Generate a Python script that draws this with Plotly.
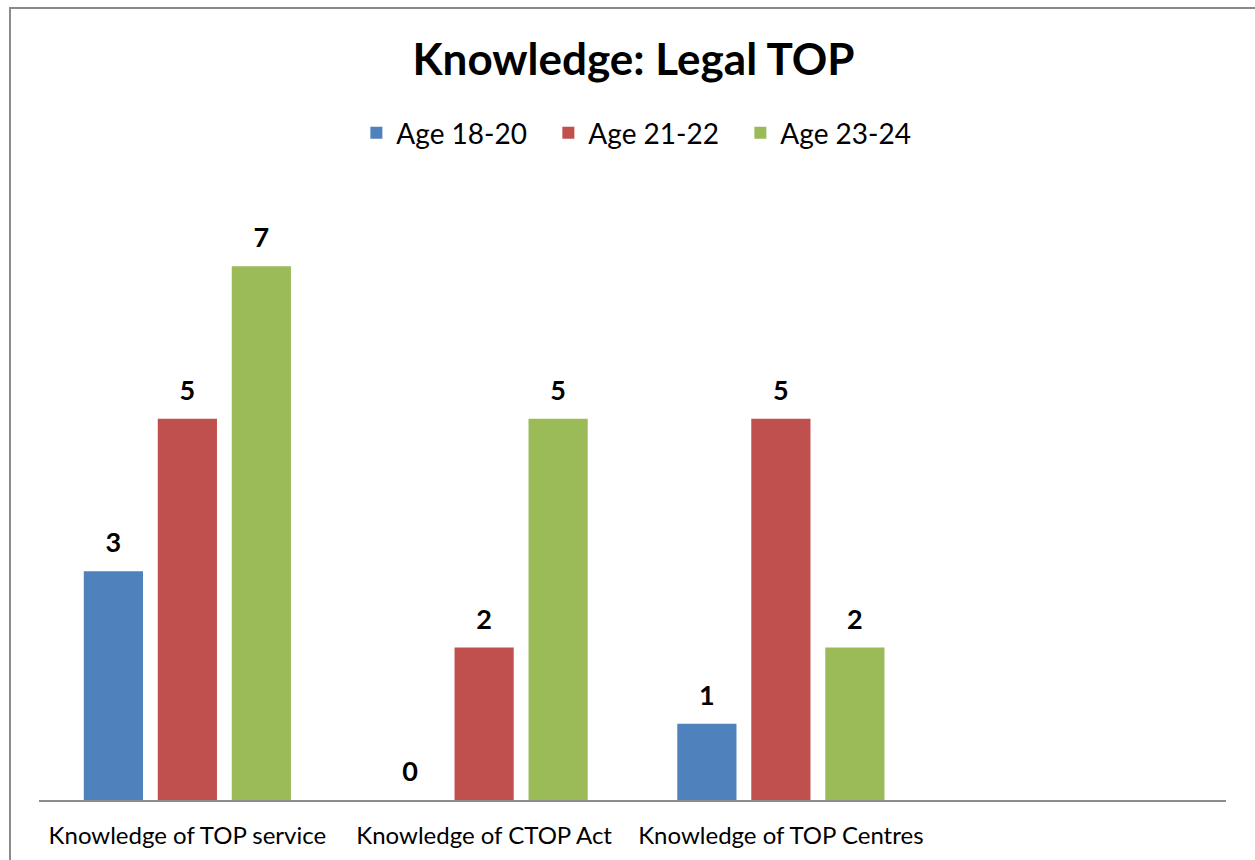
import plotly.graph_objects as go

categories = ["Knowledge of TOP service", "Knowledge of CTOP Act", "Knowledge of TOP Centres", " "]
series_names = ["Age 18-20", "Age 21-22", "Age 23-24"]
age_18_20 = [3, 0, 1, None]
age_21_22 = [5, 2, 5, None]
age_23_24 = [7, 5, 2, None]
colors = ["#4F81BD", "#C0504D", "#9BBB59"]

FONT = "Lato"
Y_MAX = 8
LABEL_LIFT = 0.13  # extra gap (in value units) between bar top and its label

fig = go.Figure()
series = [age_18_20, age_21_22, age_23_24]
for name, vals, col in zip(series_names, series, colors):
    fig.add_trace(go.Bar(
        x=categories, y=vals, name=name,
        marker=dict(color=col, line=dict(width=0)),
        hoverinfo="x+y+name",
    ))
# transparent twins on an overlaid axis carrying the data labels
for name, vals in zip(series_names, series):
    fig.add_trace(go.Bar(
        x=categories, y=vals, name=name, yaxis="y2", showlegend=False,
        marker=dict(color="rgba(0,0,0,0)", line=dict(width=0)),
        texttemplate="<b>%{y}</b>", textposition="outside",
        textfont=dict(family=FONT, size=27, color="black"),
        cliponaxis=False, hoverinfo="skip",
    ))

fig.update_layout(
    width=1255, height=860,
    margin=dict(l=39, r=29, t=190, b=60),
    paper_bgcolor="white", plot_bgcolor="white",
    barmode="group", bargap=0.252, bargroupgap=0.2,
    title=dict(text="<b>Knowledge: Legal TOP</b>", x=633.5 / 1255, xanchor="center",
               y=1 - 60 / 860, yanchor="middle",
               font=dict(family=FONT, size=44, color="black")),
    legend=dict(orientation="h", x=0.510, xanchor="center",
                y=(800 - 133) / 610, yanchor="middle",
                font=dict(family=FONT, size=28, color="black"),
                traceorder="normal", entrywidth=147),
    showlegend=True,
    yaxis2=dict(overlaying="y", range=[-LABEL_LIFT, Y_MAX - LABEL_LIFT], visible=False,
                showgrid=False, zeroline=False, fixedrange=True),
)
fig.update_xaxes(showline=True, linecolor="#8C8C8C", linewidth=2, showgrid=False,
                 ticks="", tickfont=dict(family=FONT, size=24, color="black"),
                 ticklabelstandoff=13, automargin=False, fixedrange=True)
fig.layout.yaxis.update(range=[0, Y_MAX], visible=False, showgrid=False,
                        zeroline=False, fixedrange=True)

fig.add_shape(type="rect", xref="paper", yref="paper",
              x0=(10 - 39) / 1187, x1=(1265 - 39) / 1187,
              y0=(800 - 870) / 610, y1=(800 - 8) / 610,
              line=dict(color="#8A8A8A", width=2), fillcolor="rgba(0,0,0,0)", layer="below")

fig.write_html("out.html", config={"displayModeBar": False},
               post_script="document.body.style.margin='0';document.body.style.padding='0';")
